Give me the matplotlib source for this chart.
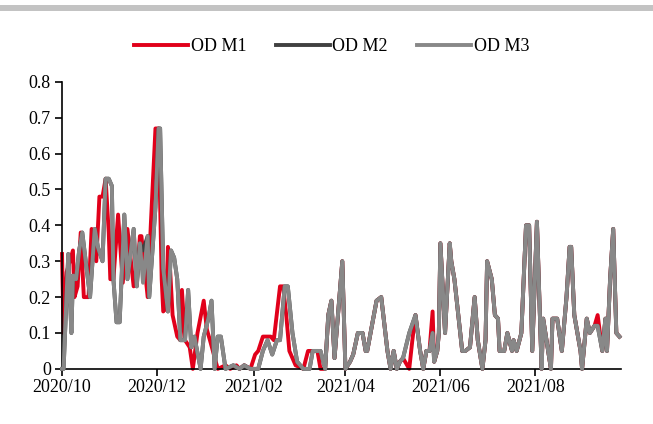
import pandas as pd
import matplotlib
matplotlib.use('Agg')
import matplotlib.pyplot as plt
import matplotlib.dates as mdates
from matplotlib.patches import Rectangle
from matplotlib.ticker import FuncFormatter

plt.rcParams['font.family'] = ['Liberation Serif', 'DejaVu Serif']

start = pd.Timestamp('2020-10-01')

# days since 2020-10-01 and values
m1_days = [0, 1, 3, 5, 7, 8, 10, 12, 14, 17, 19, 22, 24, 26, 28, 30, 31, 33, 36, 39,
           42, 46, 48, 50, 51, 55, 57, 60, 62, 64, 65, 67, 68, 69, 71, 74, 76, 77, 79, 82,
           84, 87, 91, 93, 95, 100, 105, 108, 112, 114, 117, 121, 124, 126, 129, 134, 136, 140, 142, 144,
           146, 150, 155, 158, 164, 166, 169, 171, 173, 175, 180, 182, 185, 187, 190, 193, 195, 196, 202, 205,
           209, 211, 213, 215, 217, 219, 223, 225, 227, 230, 232, 234, 236, 238, 239, 241, 242, 243, 246, 249,
           250, 252, 257, 259, 262, 265, 267, 270, 272, 273, 276, 278, 280, 281, 284, 286, 289, 290, 292, 295,
           298, 300, 302, 305, 308, 309, 314, 315, 318, 321, 324, 326, 327, 329, 333, 334, 337, 339, 342, 344,
           347, 349, 350, 352, 354, 356, 358]
m1_vals = [0.32, 0.10, 0.27, 0.30, 0.33, 0.20, 0.23, 0.38, 0.20, 0.20, 0.39, 0.30, 0.48, 0.48, 0.53, 0.38, 0.25, 0.25, 0.43, 0.24,
           0.39, 0.23, 0.24, 0.37, 0.37, 0.20, 0.40, 0.67, 0.67, 0.25, 0.16, 0.17, 0.34, 0.31, 0.15, 0.09, 0.08, 0.22, 0.08, 0.06,
           0.0, 0.10, 0.19, 0.11, 0.08, 0.0, 0.01, 0.0, 0.01, 0.0, 0.01, 0.0, 0.04, 0.05, 0.09, 0.09, 0.08, 0.23, 0.23, 0.15,
           0.05, 0.01, 0.0, 0.05, 0.05, 0.0, 0.0, 0.15, 0.19, 0.03, 0.30, 0.0, 0.02, 0.04, 0.10, 0.10, 0.05, 0.05, 0.19, 0.20,
           0.05, 0.0, 0.05, 0.0, 0.02, 0.03, 0.0, 0.08, 0.15, 0.05, 0.0, 0.05, 0.05, 0.16, 0.02, 0.05, 0.10, 0.35, 0.10, 0.35,
           0.30, 0.25, 0.05, 0.05, 0.06, 0.20, 0.08, 0.0, 0.08, 0.30, 0.25, 0.15, 0.14, 0.05, 0.05, 0.10, 0.05, 0.08, 0.05, 0.10,
           0.40, 0.40, 0.05, 0.41, 0.0, 0.14, 0.0, 0.14, 0.14, 0.05, 0.20, 0.34, 0.34, 0.15, 0.05, 0.0, 0.14, 0.10, 0.12, 0.15,
           0.05, 0.14, 0.05, 0.25, 0.39, 0.10, 0.09]

m23_days = [0, 1, 4, 6, 7, 9, 11, 13, 18, 21, 23, 26, 28, 30, 32, 33, 35, 37, 40, 42,
            46, 48, 50, 52, 55, 56, 60, 62, 63, 65, 68, 70, 72, 74, 76, 79, 81, 83, 85, 89,
            91, 94, 96, 98, 100, 102, 105, 110, 114, 117, 121, 126, 129, 132, 135, 138, 140, 143, 145, 148,
            151, 155, 159, 161, 166, 169, 171, 173, 175, 180, 182, 185, 187, 190, 193, 195, 196, 202, 205, 209,
            211, 213, 215, 217, 219, 223, 227, 230, 232, 234, 236, 238, 239, 241, 242, 243, 246, 249, 250, 252,
            257, 259, 262, 265, 267, 270, 272, 273, 276, 278, 280, 281, 284, 286, 289, 290, 292, 295, 298, 300,
            302, 305, 308, 309, 314, 315, 318, 321, 324, 326, 327, 329, 333, 334, 337, 339, 342, 344, 347, 349,
            350, 352, 354, 356, 358]
m2_vals = [0.0, 0.0, 0.32, 0.10, 0.26, 0.25, 0.33, 0.38, 0.20, 0.39, 0.34, 0.30, 0.53, 0.53, 0.51, 0.25, 0.13, 0.13, 0.43, 0.25,
           0.39, 0.23, 0.35, 0.33, 0.37, 0.20, 0.45, 0.67, 0.67, 0.28, 0.16, 0.33, 0.31, 0.25, 0.08, 0.08, 0.22, 0.06, 0.09, 0.0,
           0.09, 0.14, 0.19, 0.0, 0.09, 0.09, 0.0, 0.01, 0.0, 0.01, 0.0, 0.0, 0.05, 0.08, 0.04, 0.08, 0.08, 0.23, 0.23, 0.10,
           0.02, 0.0, 0.0, 0.05, 0.05, 0.0, 0.15, 0.19, 0.03, 0.30, 0.0, 0.02, 0.04, 0.10, 0.10, 0.05, 0.05, 0.19, 0.20, 0.05,
           0.0, 0.05, 0.0, 0.02, 0.03, 0.10, 0.15, 0.05, 0.0, 0.05, 0.05, 0.10, 0.02, 0.05, 0.10, 0.35, 0.10, 0.35, 0.30, 0.25,
           0.05, 0.05, 0.06, 0.20, 0.08, 0.0, 0.08, 0.30, 0.25, 0.15, 0.14, 0.05, 0.05, 0.10, 0.05, 0.08, 0.05, 0.10, 0.40, 0.40,
           0.05, 0.41, 0.0, 0.14, 0.0, 0.14, 0.14, 0.05, 0.20, 0.34, 0.34, 0.15, 0.05, 0.0, 0.14, 0.10, 0.12, 0.12, 0.05, 0.14,
           0.05, 0.25, 0.39, 0.10, 0.09]
m3_vals = [0.0, 0.0, 0.32, 0.10, 0.26, 0.25, 0.33, 0.38, 0.20, 0.39, 0.34, 0.30, 0.53, 0.53, 0.51, 0.25, 0.13, 0.13, 0.43, 0.25,
           0.39, 0.23, 0.35, 0.24, 0.37, 0.20, 0.45, 0.67, 0.67, 0.28, 0.16, 0.33, 0.31, 0.25, 0.08, 0.08, 0.22, 0.06, 0.09, 0.0,
           0.09, 0.14, 0.19, 0.0, 0.09, 0.09, 0.0, 0.01, 0.0, 0.01, 0.0, 0.0, 0.05, 0.08, 0.04, 0.08, 0.08, 0.23, 0.23, 0.10,
           0.02, 0.0, 0.0, 0.05, 0.05, 0.0, 0.15, 0.19, 0.03, 0.30, 0.0, 0.02, 0.04, 0.10, 0.10, 0.05, 0.05, 0.19, 0.20, 0.05,
           0.0, 0.05, 0.0, 0.02, 0.03, 0.10, 0.15, 0.05, 0.0, 0.05, 0.05, 0.10, 0.02, 0.05, 0.10, 0.35, 0.10, 0.35, 0.30, 0.25,
           0.05, 0.05, 0.06, 0.20, 0.08, 0.0, 0.08, 0.30, 0.25, 0.15, 0.14, 0.05, 0.05, 0.10, 0.05, 0.08, 0.05, 0.10, 0.40, 0.40,
           0.05, 0.41, 0.0, 0.14, 0.0, 0.14, 0.14, 0.05, 0.20, 0.34, 0.34, 0.15, 0.05, 0.0, 0.14, 0.10, 0.12, 0.12, 0.05, 0.14,
           0.05, 0.25, 0.39, 0.10, 0.09]

series_names = ['OD M1', 'OD M2', 'OD M3']
series_colors = ['#E1001A', '#404040', '#888888']
tick_months = ['2020-10-01', '2020-12-01', '2021-02-01', '2021-04-01', '2021-06-01', '2021-08-01']

m1_dates = start + pd.to_timedelta(m1_days, unit='D')
m23_dates = start + pd.to_timedelta(m23_days, unit='D')

fig = plt.figure(figsize=(6.53, 4.24), dpi=100)
ax = fig.add_axes([0.095, 0.130, 0.856, 0.677])

lw = 2.8
ax.plot(m1_dates, m1_vals, color=series_colors[0], lw=lw, label=series_names[0], clip_on=False, zorder=2)
ax.plot(m23_dates, m2_vals, color=series_colors[1], lw=lw, label=series_names[1], clip_on=False, zorder=3)
ax.plot(m23_dates, m3_vals, color=series_colors[2], lw=lw, label=series_names[2], clip_on=False, zorder=4)

ax.set_ylim(0, 0.8)
ax.set_yticks([i / 10 for i in range(9)])
ax.yaxis.set_major_formatter(FuncFormatter(lambda v, p: '0' if abs(v) < 1e-9 else '%.1f' % v))
ax.set_xlim(start, start + pd.Timedelta(days=359))
ax.set_xticks(pd.to_datetime(tick_months))
ax.xaxis.set_major_formatter(mdates.DateFormatter('%Y/%m'))

ax.spines['right'].set_visible(False)
ax.spines['top'].set_visible(False)
ax.spines['left'].set_linewidth(1.2)
ax.spines['bottom'].set_linewidth(1.2)
ax.tick_params(axis='both', direction='out', length=5, width=1.2, labelsize=13, colors='black')
ax.tick_params(axis='x', pad=2)
ax.tick_params(axis='y', pad=3)

fig.legend(loc='center', bbox_to_anchor=(0.508, 0.890), ncol=3, frameon=False, fontsize=13,
           handlelength=3.0, handletextpad=0.15, columnspacing=1.6)

# grey band at the top of the picture
fig.add_artist(Rectangle((0, 0.974), 1, 0.014, transform=fig.transFigure, color='#C3C3C3', lw=0))

fig.savefig('out.png', dpi=100)
